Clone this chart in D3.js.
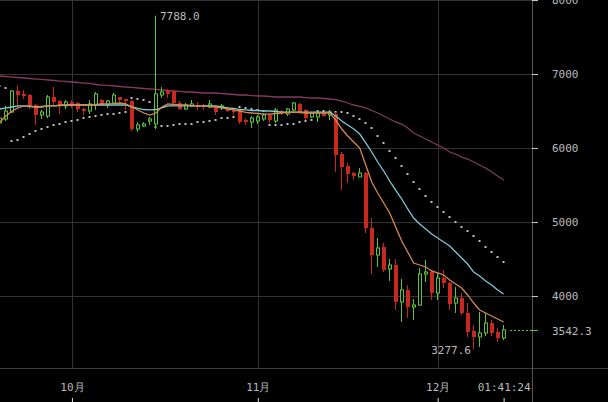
<!DOCTYPE html>
<html><head><meta charset="utf-8">
<script src="https://cdn.jsdelivr.net/npm/d3@7"></script>
<style>html,body{margin:0;padding:0;background:#000;overflow:hidden}svg{display:block}</style>
</head><body><svg id="c" width="608" height="402"></svg>
<script>
// ---- data (daily candles, first date 2018-09-19) ----
const firstDate = "2018-09-19";
const open  = [6338,6392,6486,6770,6730,6716,6581,6446,6432,6689,6635,6568,6622,6608,6527,6500,6581,6649,6581,6608,6689,6662,6635,6257,6297,6365,6324,6716,6770,6770,6608,6527,6568,6581,6581,6554,6554,6541,6541,6514,6514,6378,6351,6365,6392,6446,6365,6500,6459,6514,6595,6514,6419,6419,6473,6446,6459,5919,5757,5662,5608,5662,4919,4554,4662,4365,4419,3919,4081,3851,3878,4297,4324,4041,4243,4176,3905,3973,3770,3527,3446,3500,3635,3514,3432];
const high  = [6459,6568,6784,6851,6784,6730,6595,6514,6716,6824,6649,6649,6649,6622,6541,6649,6757,6662,6649,6743,6689,6662,6649,6351,6351,6419,7788,6824,6797,6784,6635,6608,6649,6622,6595,6649,6568,6595,6554,6527,6527,6405,6432,6446,6473,6459,6541,6514,6541,6622,6608,6527,6486,6500,6486,6514,6486,5946,5797,5676,5730,5676,5054,4784,4716,4500,4500,4230,4149,3959,4378,4486,4351,4311,4351,4189,4122,4041,3905,3608,3784,3770,3676,3568,3608];
const low   = [6297,6365,6473,6554,6662,6527,6311,6392,6405,6581,6459,6527,6541,6486,6446,6459,6514,6568,6541,6595,6622,6514,6230,6216,6284,6311,6257,6676,6676,6581,6514,6514,6554,6514,6514,6541,6446,6514,6486,6446,6324,6311,6270,6324,6365,6338,6338,6446,6432,6500,6473,6378,6405,6351,6419,6378,5676,5432,5527,5568,5608,4851,4297,4392,4324,4203,3811,3649,3703,3676,3865,4189,3946,3946,4108,3811,3770,3743,3446,3277.6,3311,3459,3459,3378,3405];
const close = [6405,6500,6770,6716,6703,6581,6446,6486,6689,6622,6581,6622,6568,6527,6500,6595,6730,6581,6635,6716,6649,6635,6257,6311,6324,6392,6730,6757,6730,6608,6527,6581,6595,6554,6554,6595,6486,6568,6500,6486,6351,6351,6405,6419,6446,6378,6514,6473,6527,6608,6486,6405,6473,6473,6432,6486,5905,5743,5649,5622,5662,4919,4554,4649,4351,4419,3919,4081,3851,3878,4297,4324,4041,4243,4176,3892,3973,3770,3514,3446,3500,3635,3500,3432,3542.3];
const maShort = [6351,6432,6500,6541,6568,6568,6554,6554,6568,6568,6581,6581,6581,6581,6581,6581,6588,6595,6595,6601,6608,6595,6554,6514,6473,6446,6473,6554,6595,6588,6581,6581,6574,6568,6568,6561,6554,6541,6527,6514,6500,6480,6473,6466,6459,6459,6466,6473,6480,6486,6480,6473,6473,6473,6473,6473,6378,6257,6162,6081,6000,5770,5541,5392,5257,5122,4932,4743,4595,4446,4419,4392,4338,4311,4284,4216,4162,4108,4014,3905,3811,3770,3730,3689,3649];
const maMid = [6527,6541,6554,6568,6568,6561,6554,6561,6568,6568,6574,6581,6581,6581,6581,6581,6581,6581,6581,6581,6581,6581,6554,6534,6520,6514,6520,6541,6568,6568,6568,6568,6568,6568,6568,6568,6568,6554,6541,6534,6520,6514,6507,6507,6500,6500,6493,6486,6486,6486,6486,6486,6486,6486,6486,6486,6432,6365,6311,6257,6189,6068,5946,5811,5689,5554,5432,5311,5176,5054,4973,4905,4838,4784,4730,4676,4595,4514,4432,4324,4270,4203,4149,4081,4027];
const maLong = [6973,6966,6959,6953,6946,6939,6932,6926,6919,6912,6905,6899,6892,6885,6878,6872,6858,6851,6845,6838,6831,6824,6818,6811,6804,6797,6791,6784,6777,6770,6764,6757,6757,6750,6743,6743,6743,6736,6730,6723,6716,6716,6709,6703,6703,6696,6689,6689,6689,6689,6689,6682,6676,6676,6669,6662,6655,6635,6608,6581,6561,6541,6507,6473,6432,6392,6351,6324,6270,6203,6162,6122,6081,6041,6000,5946,5919,5878,5851,5811,5770,5730,5676,5622,5568];
const sar = [6838,6811,6095,6108,6149,6189,6230,6257,6284,6311,6324,6351,6365,6378,6405,6419,6432,6446,6453,6459,6473,6486,6676,6662,6649,6615,6284,6291,6297,6311,6318,6324,6331,6345,6351,6365,6378,6399,6405,6419,6554,6541,6527,6514,6500,6311,6311,6311,6318,6324,6351,6365,6378,6500,6500,6486,6486,6486,6473,6432,6392,6338,6270,6162,6068,5959,5865,5757,5649,5541,5446,5351,5270,5203,5135,5068,5000,4932,4878,4811,4743,4662,4595,4527,4459];
const yTicks = [4000,5000,6000,7000,8000];
const xTickDates = ["2018-10-01","2018-11-01","2018-12-01","2018-12-12"];
const xTickLabels = ["10月","11月","12月","01:41:24"];
const gridMonths = ["2018-10-01","2018-11-01","2018-12-01"];
const lastPrice = 3542.3;

// ---- setup ----
const W = 608, H = 402, plotR = 532, plotB = 368;
const parse = d3.timeParse("%Y-%m-%d");
const d0 = parse(firstDate);
const dates = open.map((_, i) => d3.timeDay.offset(d0, i));
const x = d3.scaleTime().domain([d0, d3.timeDay.offset(d0, 89)]).range([0, 533.6]);
const y = d3.scaleLinear().domain([3000, 8000]).range([370, 0]);
const svg = d3.select("#c");
const font = "'DejaVu Sans Mono', monospace";
const RED = "#c8291f", GREEN = "#5cc43a";

svg.append("rect").attr("width", W).attr("height", H).attr("fill", "#000");
svg.append("defs").append("clipPath").attr("id", "clip")
  .append("rect").attr("x", 0).attr("y", 0).attr("width", plotR).attr("height", plotB);

// grid
const grid = svg.append("g");
grid.selectAll("line.h").data(yTicks).join("line")
  .attr("x1", 0).attr("x2", plotR)
  .attr("y1", d => Math.round(y(d)) + 0.5).attr("y2", d => Math.round(y(d)) + 0.5)
  .attr("stroke", "#333");
grid.selectAll("line.v").data(gridMonths).join("line")
  .attr("x1", d => Math.round(x(parse(d))) + 0.5).attr("x2", d => Math.round(x(parse(d))) + 0.5)
  .attr("y1", 0).attr("y2", plotB)
  .attr("stroke", "#333");

// frame lines
svg.append("line").attr("x1", 0).attr("x2", W).attr("y1", plotB + 0.5).attr("y2", plotB + 0.5).attr("stroke", "#3c3c3c");
svg.append("line").attr("x1", plotR + 0.5).attr("x2", plotR + 0.5).attr("y1", 0).attr("y2", H).attr("stroke", "#555");

const plot = svg.append("g").attr("clip-path", "url(#clip)");
const idx = d3.range(open.length);
const px = i => Math.round(x(dates[i]));

// MA long line
const lineGen = arr => d3.line().x((d, i) => x(dates[i])).y(d => y(d))(arr);
plot.append("path").attr("d", lineGen(maLong)).attr("fill", "none").attr("stroke", "#843a5c").attr("stroke-width", 1.3);

// SAR dots
plot.selectAll("rect.sar").data(idx).join("rect")
  .attr("x", i => px(i) - 1.5).attr("y", i => Math.round(y(sar[i])) - 1)
  .attr("width", 2).attr("height", 2).attr("fill", "#bdbdbd");

// candles
const up = i => close[i] >= open[i];
plot.selectAll("line.wick").data(idx).join("line")
  .attr("x1", i => px(i) - 0.5).attr("x2", i => px(i) - 0.5)
  .attr("y1", i => y(high[i])).attr("y2", i => y(low[i]))
  .attr("stroke", i => up(i) ? GREEN : RED).attr("stroke-width", 1);
plot.selectAll("rect.body").data(idx).join("rect")
  .attr("x", i => up(i) ? px(i) - 1.5 : px(i) - 2)
  .attr("y", i => y(Math.max(open[i], close[i])))
  .attr("width", i => up(i) ? 3 : 4)
  .attr("height", i => Math.max(1, y(Math.min(open[i], close[i])) - y(Math.max(open[i], close[i]))))
  .attr("fill", i => up(i) ? "#000" : RED)
  .attr("stroke", i => up(i) ? GREEN : "none").attr("stroke-width", 1);

plot.append("path").attr("d", lineGen(maMid)).attr("fill", "none").attr("stroke", "#7cc9d6").attr("stroke-width", 1.3);
plot.append("path").attr("d", lineGen(maShort)).attr("fill", "none").attr("stroke", "#d58a4c").attr("stroke-width", 1.3);

// high / low labels
const hiI = d3.maxIndex(high), loI = d3.minIndex(low);
svg.append("text").attr("x", px(hiI) + 4).attr("y", y(high[hiI]) + 4)
  .attr("font-family", font).attr("font-size", 11).attr("fill", "#bbb").text(high[hiI].toFixed(1));
svg.append("text").attr("x", px(loI) - 3).attr("y", y(low[loI]) + 5).attr("text-anchor", "end")
  .attr("font-family", font).attr("font-size", 11).attr("fill", "#bbb").text(low[loI].toFixed(1));

// right axis
const yAxis = d3.axisRight(y).tickValues(yTicks).tickSize(6).tickPadding(14).tickFormat(d3.format("d"));
const ga = svg.append("g").attr("transform", `translate(${plotR},0)`).call(yAxis);
ga.select(".domain").remove();
ga.selectAll(".tick line").attr("stroke", "#ccc");
ga.selectAll(".tick text").attr("fill", "#bbb").attr("font-family", font).attr("font-size", 11);

// last price marker
const yp = Math.round(y(lastPrice)) + 0.5;
svg.append("line").attr("x1", 510).attr("x2", plotR).attr("y1", yp).attr("y2", yp)
  .attr("stroke", GREEN).attr("stroke-dasharray", "2,2");
svg.append("line").attr("x1", plotR).attr("x2", plotR + 6).attr("y1", yp).attr("y2", yp).attr("stroke", GREEN);
svg.append("text").attr("x", plotR + 20).attr("y", yp + 4)
  .attr("font-family", font).attr("font-size", 11).attr("fill", "#bbb").text(lastPrice.toFixed(1));

// bottom axis
const xAxis = d3.axisTop(x).tickValues(xTickDates.map(parse)).tickSize(4).tickPadding(7)
  .tickFormat((d, i) => xTickLabels[i]);
const gx = svg.append("g").attr("transform", `translate(0,${H})`).call(xAxis);
gx.select(".domain").remove();
gx.selectAll(".tick line").attr("stroke", "#ddd");
gx.selectAll(".tick text").attr("fill", "#bbb").attr("font-family", font).attr("font-size", 11);
</script></body></html>
